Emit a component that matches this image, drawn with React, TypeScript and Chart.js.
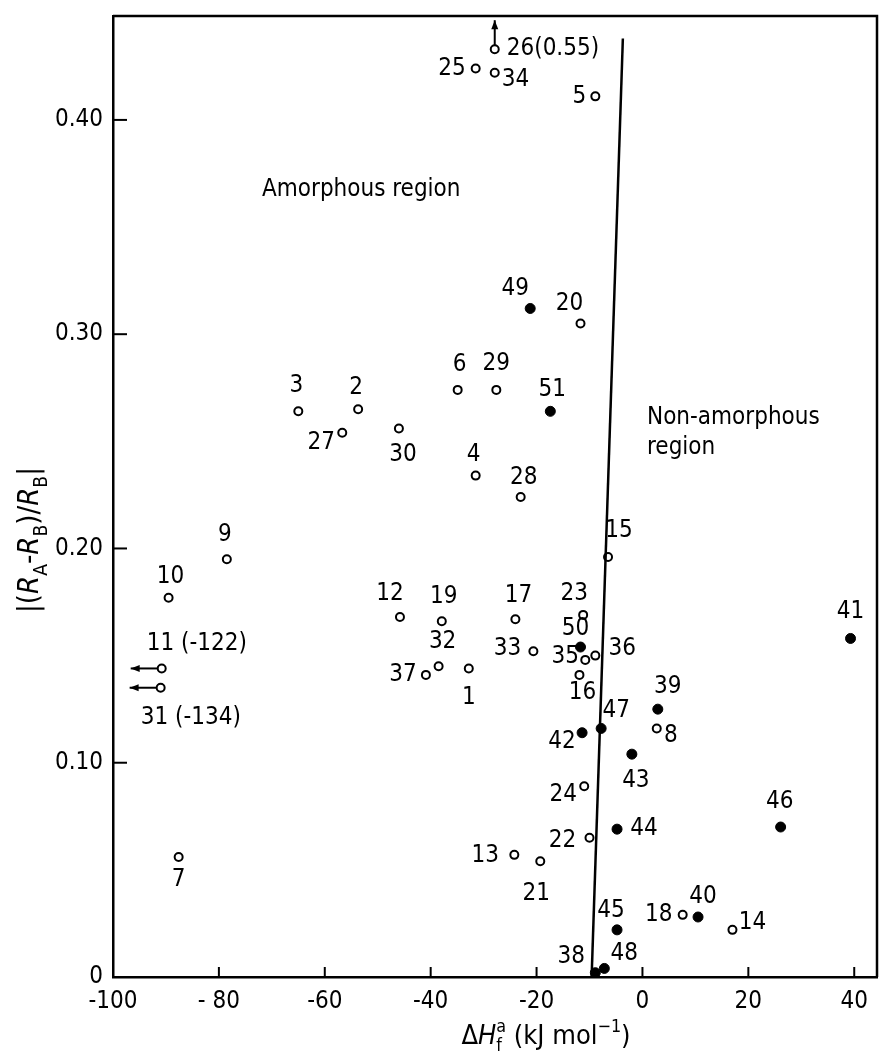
import React, { useEffect, useRef } from "react";
import { Chart, registerables } from "chart.js";

Chart.register(...registerables);

// ---- data ----
const openIds = ["1","2","3","4","5","6","7","8","9","10","11","12","13","14","15","16","17","18","19","20","21","22","23","24","25","26","27","28","29","30","31","32","33","34","35","36","37"];
const openLabels = ["1","2","3","4","5","6","7","8","9","10","11 (-122)","12","13","14","15","16","17","18","19","20","21","22","23","24","25","26(0.55)","27","28","29","30","31 (-134)","32","33","34","35","36","37"];
const openX = [-32.8,-53.7,-65.0,-31.5,-8.9,-34.9,-87.6,2.7,-78.5,-89.5,-90.8,-45.8,-24.2,17.0,-6.5,-11.9,-24.0,7.6,-37.9,-11.7,-19.3,-10.0,-11.2,-11.0,-31.5,-27.9,-56.7,-23.0,-27.6,-46.0,-91.0,-38.5,-20.6,-27.9,-10.8,-8.9,-40.9];
const openY = [0.144,0.265,0.264,0.234,0.411,0.274,0.056,0.116,0.195,0.177,0.144,0.168,0.057,0.022,0.196,0.141,0.167,0.029,0.166,0.305,0.054,0.065,0.169,0.089,0.424,0.433,0.254,0.224,0.274,0.256,0.135,0.145,0.152,0.422,0.148,0.150,0.141];

const filledIds = ["38","39","40","41","42","43","44","45","46","47","48","49","50","51"];
const filledX = [-8.9,2.9,10.5,39.3,-11.4,-2.0,-4.8,-4.8,26.1,-7.8,-7.2,-21.2,-11.7,-17.4];
const filledY = [0.002,0.125,0.028,0.158,0.114,0.104,0.069,0.022,0.070,0.116,0.004,0.312,0.154,0.264];

const boundaryX = [-9.6, -3.7];
const boundaryY = [0, 0.438];

const xTickValues = [-100, -80, -60, -40, -20, 0, 20, 40];
const xTickLabels = ["-100", "- 80", "-60", "-40", "-20", "0", "20", "40"];
const yTickValues = [0, 0.1, 0.2, 0.3, 0.4];
const yTickLabels = ["0", "0.10", "0.20", "0.30", "0.40"];

// ---- layout (label offsets in px: dx, dy, align) ----
const labelPlacement: Record<string, [number, number, CanvasTextAlign]> = {
  "1": [0, 29, "center"], "2": [-2, -21, "center"], "3": [-2, -26, "center"], "4": [-2, -21, "center"],
  "5": [-9, 0, "right"], "6": [2, -25, "center"], "7": [0, 23, "center"], "8": [14, 7, "center"],
  "9": [-2, -24, "center"], "10": [2, -21, "center"], "11": [-15, -25, "left"], "12": [-10, -23, "center"],
  "13": [-29, 1, "center"], "14": [20, -7, "center"], "15": [11, -26, "center"], "16": [3, 18, "center"],
  "17": [3, -23, "center"], "18": [-24, 0, "center"], "19": [2, -25, "center"], "20": [-11, -20, "center"],
  "21": [-4, 32, "center"], "22": [-27, 3, "center"], "23": [-9, -21, "center"], "24": [-21, 8, "center"],
  "25": [-10, 0, "right"], "26": [12, 0, "left"], "27": [-21, 10, "center"], "28": [3, -19, "center"],
  "29": [0, -26, "center"], "30": [4, 26, "center"], "31": [-20, 30, "left"], "32": [4, -25, "center"],
  "33": [-26, -3, "center"], "34": [7, 7, "left"], "35": [-20, -3, "center"], "36": [27, -7, "center"],
  "37": [-23, 0, "center"], "38": [-24, -16, "center"], "39": [10, -22, "center"], "40": [5, -20, "center"],
  "41": [0, -27, "center"], "42": [-20, 9, "center"], "43": [4, 27, "center"], "44": [27, 0, "center"],
  "45": [-6, -19, "center"], "46": [-1, -25, "center"], "47": [15, -18, "center"], "48": [20, -15, "center"],
  "49": [-15, -20, "center"], "50": [-5, -18, "center"], "51": [2, -22, "center"],
};

const FONT = "'DejaVu Sans Condensed', 'Liberation Sans Narrow', 'DejaVu Sans', sans-serif";
const FS = 24;
const TITLE_FS = 27;

type Seg = { t: string; s: "n" | "i" | "sub" | "sup" | "supsub"; t2?: string };

function segFont(style: string, size: number) {
  return `${style === "i" ? "italic " : ""}${size}px ${FONT}`;
}

function drawRich(ctx: CanvasRenderingContext2D, segs: Seg[], cx: number, cy: number, size: number) {
  const small = size * 0.66;
  const widths = segs.map((sg) => {
    if (sg.s === "sub" || sg.s === "sup") { ctx.font = segFont("n", small); return ctx.measureText(sg.t).width; }
    if (sg.s === "supsub") { ctx.font = segFont("n", small); return Math.max(ctx.measureText(sg.t).width, ctx.measureText(sg.t2 || "").width); }
    ctx.font = segFont(sg.s, size); return ctx.measureText(sg.t).width;
  });
  const total = widths.reduce((a, b) => a + b, 0);
  let x = cx - total / 2;
  ctx.textBaseline = "alphabetic";
  ctx.textAlign = "left";
  const base = cy + size * 0.36;
  segs.forEach((sg, i) => {
    if (sg.s === "sub") { ctx.font = segFont("n", small); ctx.fillText(sg.t, x, base + size * 0.28); }
    else if (sg.s === "sup") { ctx.font = segFont("n", small); ctx.fillText(sg.t, x, base - size * 0.42); }
    else if (sg.s === "supsub") {
      ctx.font = segFont("n", small);
      ctx.fillText(sg.t, x, base - size * 0.42);
      ctx.fillText(sg.t2 || "", x, base + size * 0.28);
    } else { ctx.font = segFont(sg.s, size); ctx.fillText(sg.t, x, base); }
    x += widths[i];
  });
}

function arrow(ctx: CanvasRenderingContext2D, x1: number, y1: number, x2: number, y2: number) {
  ctx.beginPath();
  ctx.moveTo(x1, y1);
  ctx.lineTo(x2, y2);
  ctx.stroke();
  const ang = Math.atan2(y2 - y1, x2 - x1);
  const L = 9, W = 3.5;
  ctx.beginPath();
  ctx.moveTo(x2, y2);
  ctx.lineTo(x2 - L * Math.cos(ang) + W * Math.sin(ang), y2 - L * Math.sin(ang) - W * Math.cos(ang));
  ctx.lineTo(x2 - L * Math.cos(ang) - W * Math.sin(ang), y2 - L * Math.sin(ang) + W * Math.cos(ang));
  ctx.closePath();
  ctx.fill();
}

const decorPlugin = {
  id: "decor",
  afterDraw(chart: any) {
    const ctx: CanvasRenderingContext2D = chart.ctx;
    const xs = chart.scales.x, ys = chart.scales.y;
    const ca = chart.chartArea;
    ctx.save();
    ctx.fillStyle = "#000";
    ctx.strokeStyle = "#000";

    // frame top & right
    ctx.lineWidth = 2.5;
    ctx.beginPath();
    ctx.moveTo(ca.left, ca.top);
    ctx.lineTo(ca.right, ca.top);
    ctx.lineTo(ca.right, ca.bottom);
    ctx.stroke();

    // inward tick marks
    ctx.lineWidth = 2;
    yTickValues.forEach((v) => {
      const py = ys.getPixelForValue(v);
      if (v === 0) return;
      ctx.beginPath(); ctx.moveTo(ca.left, py); ctx.lineTo(ca.left + 14, py); ctx.stroke();
    });
    xTickValues.forEach((v) => {
      const px = xs.getPixelForValue(v);
      if (v === -100) return;
      ctx.beginPath(); ctx.moveTo(px, ca.bottom); ctx.lineTo(px, ca.bottom - 10); ctx.stroke();
    });

    // point labels
    ctx.font = `${FS}px ${FONT}`;
    ctx.textBaseline = "middle";
    const drawLabels = (ids: string[], labels: string[], xv: number[], yv: number[]) => {
      ids.forEach((id, i) => {
        const p = labelPlacement[id] || [0, -20, "center"];
        const px = xs.getPixelForValue(xv[i]);
        const py = ys.getPixelForValue(yv[i]);
        ctx.textAlign = p[2];
        ctx.fillText(labels[i], px + p[0], py + p[1]);
      });
    };
    drawLabels(openIds, openLabels, openX, openY);
    drawLabels(filledIds, filledIds, filledX, filledY);

    // arrows for off-scale points
    ctx.lineWidth = 2;
    const idx = (id: string) => openIds.indexOf(id);
    ["11", "31"].forEach((id) => {
      const i = idx(id);
      const px = xs.getPixelForValue(openX[i]);
      const py = ys.getPixelForValue(openY[i]);
      arrow(ctx, px - 4, py, px - 31, py);
    });
    {
      const i = idx("26");
      const px = xs.getPixelForValue(openX[i]);
      const py = ys.getPixelForValue(openY[i]);
      arrow(ctx, px, py - 4, px, py - 29);
    }

    // region texts
    ctx.font = `${FS}px ${FONT}`;
    ctx.textAlign = "left";
    ctx.textBaseline = "middle";
    ctx.fillText("Amorphous region", 262, 190);
    ctx.fillText("Non-amorphous", 647, 418);
    ctx.fillText("region", 647, 448);

    // x title
    drawRich(ctx, [
      { t: "\u0394", s: "n" }, { t: "H", s: "i" }, { t: "a", s: "supsub", t2: "f" },
      { t: " (kJ mol", s: "n" }, { t: "\u22121", s: "sup" }, { t: ")", s: "n" },
    ], 546, 1034, TITLE_FS);

    // y title
    ctx.save();
    ctx.translate(28, 540);
    ctx.rotate(-Math.PI / 2);
    drawRich(ctx, [
      { t: "|(", s: "n" }, { t: "R", s: "i" }, { t: "A", s: "sub" }, { t: "-", s: "n" },
      { t: "R", s: "i" }, { t: "B", s: "sub" }, { t: ")/", s: "n" }, { t: "R", s: "i" },
      { t: "B", s: "sub" }, { t: "|", s: "n" },
    ], 0, 0, TITLE_FS + 2);
    ctx.restore();

    ctx.restore();
  },
};

const zeroPad = (s: any) => {
  s.paddingTop = 0;
  s.paddingBottom = 0;
  s.paddingLeft = 0;
  s.paddingRight = 0;
};

export default function App() {
  const ref = useRef<HTMLCanvasElement | null>(null);
  useEffect(() => {
    document.body.style.margin = "0";
    const canvas = ref.current!;
    const chart = new Chart(canvas, {
      type: "scatter",
      data: {
        datasets: [
          {
            type: "line",
            data: boundaryX.map((x, i) => ({ x, y: boundaryY[i] })),
            borderColor: "#000",
            borderWidth: 2.5,
            pointRadius: 0,
            showLine: true,
            fill: false,
          } as any,
          {
            data: openX.map((x, i) => ({ x, y: openY[i] })),
            pointStyle: "circle",
            pointRadius: 4,
            pointBorderWidth: 2,
            pointBackgroundColor: "#fff",
            pointBorderColor: "#000",
          },
          {
            data: filledX.map((x, i) => ({ x, y: filledY[i] })),
            pointStyle: "circle",
            pointRadius: 5,
            pointBorderWidth: 1,
            pointBackgroundColor: "#000",
            pointBorderColor: "#000",
          },
        ],
      },
      options: {
        responsive: false,
        animation: false,
        events: [],
        layout: { padding: { top: 16, right: 2, left: 0, bottom: 0 } },
        plugins: { legend: { display: false }, tooltip: { enabled: false } },
        scales: {
          x: {
            type: "linear",
            min: -100,
            max: 44.3,
            afterBuildTicks: (s: any) => { s.ticks = xTickValues.map((v) => ({ value: v })); },
            afterFit: (s: any) => { s.height = 75; zeroPad(s); },
            ticks: {
              color: "#000",
              font: { family: FONT, size: FS },
              padding: 10,
              maxRotation: 0,
              autoSkip: false,
              callback: (v: any) => { const i = xTickValues.indexOf(Number(v)); return i >= 0 ? xTickLabels[i] : ""; },
            },
            grid: { display: false, drawTicks: false },
            border: { display: true, color: "#000", width: 2.5 },
          },
          y: {
            type: "linear",
            min: 0,
            max: 0.4485,
            afterBuildTicks: (s: any) => { s.ticks = yTickValues.map((v) => ({ value: v })); },
            afterFit: (s: any) => { s.width = 113; zeroPad(s); },
            ticks: {
              color: "#000",
              font: { family: FONT, size: FS },
              padding: 10,
              autoSkip: false,
              callback: (v: any) => {
                const i = yTickValues.findIndex((t) => Math.abs(t - Number(v)) < 1e-9);
                return i >= 0 ? yTickLabels[i] : "";
              },
            },
            grid: { display: false, drawTicks: false },
            border: { display: true, color: "#000", width: 2.5 },
          },
        },
      },
      plugins: [decorPlugin],
    });
    return () => chart.destroy();
  }, []);
  return <canvas ref={ref} width={883} height={1052} style={{ display: "block" }} />;
}
